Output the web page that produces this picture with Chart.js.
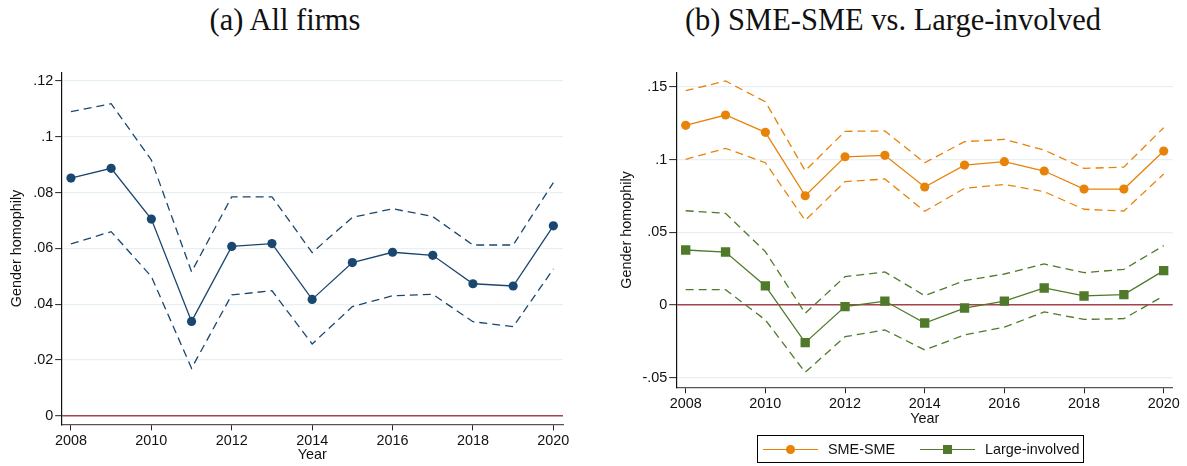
<!DOCTYPE html>
<html>
<head>
<meta charset="utf-8">
<script src="https://cdn.jsdelivr.net/npm/chart.js@4/dist/chart.umd.min.js"></script>
<style>
  body { margin: 0; background: #fff; width: 1187px; height: 466px; position: relative; overflow: hidden; }
  .panel { position: absolute; top: 0; height: 466px; }
  .title { position: absolute; top: 3px; font-family: "Liberation Serif", serif; font-size: 30.5px; color: #111; white-space: nowrap; transform: translateX(-50%); }
  .legend { position: absolute; left: 757px; top: 435px; width: 325px; height: 26px; border: 1px solid #000; font-family: "Liberation Sans", Arial, sans-serif; font-size: 14.4px; color: #111; }
  .item { position: absolute; top: 0; height: 26px; line-height: 26px; white-space: nowrap; }
  .sample { position: absolute; top: 13px; width: 55px; height: 0; }
  .mark { position: absolute; width: 9px; height: 9px; top: -5px; left: 23px; }
  .lbl { position: absolute; white-space: nowrap; }
</style>
</head>
<body>
<div class="title" style="left:285px">(a) All firms</div>
<div class="title" style="left:893px">(b) SME-SME vs. Large-involved</div>
<div class="panel" style="left:0;width:590px"><canvas id="chartA"></canvas></div>
<div class="panel" style="left:590px;width:597px"><canvas id="chartB"></canvas></div>
<div class="legend">
  <div class="item" style="left:5px">
    <div class="sample" style="border-top:1.5px solid #e8830a"><div class="mark" style="background:#e8830a;border-radius:50%"></div></div>
    <span class="lbl" style="left:65px">SME-SME</span>
  </div>
  <div class="item" style="left:162px">
    <div class="sample" style="border-top:1.5px solid #557a35"><div class="mark" style="background:#4e7a2a"></div></div>
    <span class="lbl" style="left:65px">Large-involved</span>
  </div>
</div>
<script>
// --- Data ---
const YEARS = [2008, 2009, 2010, 2011, 2012, 2013, 2014, 2015, 2016, 2017, 2018, 2019, 2020];

// (a) All firms
const ALL_EST = [0.0852, 0.0887, 0.0705, 0.0338, 0.0607, 0.0617, 0.0417, 0.0549, 0.0586, 0.0575, 0.0473, 0.0465, 0.0681];
const ALL_HI  = [0.1090, 0.1119, 0.0917, 0.0516, 0.0785, 0.0785, 0.0585, 0.0711, 0.0742, 0.0714, 0.0612, 0.0612, 0.0836];
const ALL_LO  = [0.0616, 0.0660, 0.0499, 0.0170, 0.0433, 0.0448, 0.0257, 0.0391, 0.0430, 0.0435, 0.0337, 0.0319, 0.0526];

// (b) SME-SME vs. Large-involved
const SME_EST = [0.1235, 0.1306, 0.1187, 0.0751, 0.1019, 0.1029, 0.0811, 0.0962, 0.0985, 0.0921, 0.0797, 0.0797, 0.1058];
const SME_HI  = [0.1473, 0.1540, 0.1397, 0.0923, 0.1194, 0.1196, 0.0978, 0.1123, 0.1139, 0.1065, 0.0939, 0.0948, 0.1219];
const SME_LO  = [0.1001, 0.1077, 0.0978, 0.0582, 0.0848, 0.0866, 0.0644, 0.0802, 0.0829, 0.0779, 0.0658, 0.0646, 0.0900];
const LRG_EST = [0.0378, 0.0364, 0.0131, -0.0259, -0.0011, 0.0027, -0.0124, -0.0021, 0.0027, 0.0117, 0.0062, 0.0071, 0.0236];
const LRG_HI  = [0.0648, 0.0630, 0.0367, -0.0057, 0.0195, 0.0227, 0.0064, 0.0167, 0.0213, 0.0282, 0.0222, 0.0245, 0.0408];
const LRG_LO  = [0.0105, 0.0105, -0.0103, -0.0463, -0.0218, -0.0172, -0.0309, -0.0206, -0.0153, -0.0048, -0.0099, -0.0094, 0.0062];

const X_TICKS = [2008, 2010, 2012, 2014, 2016, 2018, 2020];
const Y_TICKS_A = [0, 0.02, 0.04, 0.06, 0.08, 0.1, 0.12];
const Y_TICKS_B = [-0.05, 0, 0.05, 0.1, 0.15];

const NAVY = '#1a476f', ORANGE = '#e8830a', GREEN = '#4e7a2a';
const FONT = { family: '"Liberation Sans", Arial, sans-serif', size: 14.4 };

const pts = vals => vals.map((v, i) => ({ x: YEARS[i], y: v }));

function estLine(label, vals, color, style, radius) {
  return { label, data: pts(vals), borderColor: color, backgroundColor: color, borderWidth: 1.3,
    pointStyle: style, pointRadius: radius, pointHoverRadius: radius, pointBorderWidth: 0, tension: 0 };
}
function ciLine(vals, color) {
  return { label: '', data: pts(vals), borderColor: color, borderWidth: 1.3, borderDash: [8, 5],
    pointRadius: 0, tension: 0 };
}

function fmtY(v) {
  if (Math.abs(v) < 1e-9) return '0';
  return String(+v.toFixed(3)).replace(/^(-?)0\./, '$1.');
}

function buildOptions(cfg) {
  return {
    responsive: false, animation: false,
    layout: { padding: cfg.padding },
    plugins: { legend: { display: false }, tooltip: { enabled: false } },
    scales: {
      x: {
        type: 'linear', min: cfg.xMin, max: cfg.xMax,
        afterBuildTicks: s => { s.ticks = X_TICKS.map(v => ({ value: v })); },
        afterFit: s => { s.height = cfg.xHeight; },
        grid: { drawOnChartArea: false, tickLength: 6, tickColor: '#222', tickWidth: 1 },
        border: { display: true, color: '#555', width: 1.2 },
        ticks: { color: '#111', font: FONT, padding: 2, maxRotation: 0, callback: v => String(v) },
        title: { display: true, text: 'Year', color: '#111', font: FONT, padding: { top: 0, bottom: cfg.yearPad } }
      },
      y: {
        min: cfg.yMin, max: cfg.yMax,
        afterBuildTicks: s => { s.ticks = cfg.yTicks.map(v => ({ value: v })); },
        afterFit: s => { s.width = cfg.yWidth; },
        grid: {
          color: c => (c.tick && Math.abs(c.tick.value) < 1e-9) ? '#a3434c' : '#e7f0f2',
          lineWidth: c => (c.tick && Math.abs(c.tick.value) < 1e-9) ? 1.4 : 1.2,
          tickLength: cfg.tickLen, tickColor: '#222', tickWidth: 1
        },
        border: { display: true, color: '#111', width: 1.2 },
        ticks: { color: '#111', font: FONT, padding: 2, callback: fmtY },
        title: { display: true, text: 'Gender homophily', color: '#111', font: FONT, padding: { top: cfg.titlePad, bottom: 0 } }
      }
    }
  };
}

const cA = document.getElementById('chartA');
cA.width = 590; cA.height = 466;
new Chart(cA, {
  type: 'line',
  data: { datasets: [
    estLine('All firms', ALL_EST, NAVY, 'circle', 4.6),
    ciLine(ALL_HI, NAVY),
    ciLine(ALL_LO, NAVY)
  ] },
  options: buildOptions({
    padding: { left: 0, top: 72.7, right: 27, bottom: 0 },
    xMin: 2007.77, xMax: 2020.24, yMin: -0.0031, yMax: 0.123,
    yTicks: Y_TICKS_A, yWidth: 61.7, xHeight: 41.7, yearPad: 2.6, titlePad: 8.6, tickLen: 6.5
  })
});

const cB = document.getElementById('chartB');
cB.width = 597; cB.height = 466;
new Chart(cB, {
  type: 'line',
  data: { datasets: [
    estLine('SME-SME', SME_EST, ORANGE, 'circle', 4.6),
    estLine('Large-involved', LRG_EST, GREEN, 'rect', 6.6),
    ciLine(SME_HI, ORANGE),
    ciLine(SME_LO, ORANGE),
    ciLine(LRG_HI, GREEN),
    ciLine(LRG_LO, GREEN)
  ] },
  options: buildOptions({
    padding: { left: 0, top: 72.7, right: 14.3, bottom: 38.7 },
    xMin: 2007.774, xMax: 2020.226, yMin: -0.0566, yMax: 0.1597,
    yTicks: Y_TICKS_B, yWidth: 86.7, xHeight: 40, yearPad: 0, titlePad: 28.3, tickLen: 7.5
  })
});
</script>
</body>
</html>
